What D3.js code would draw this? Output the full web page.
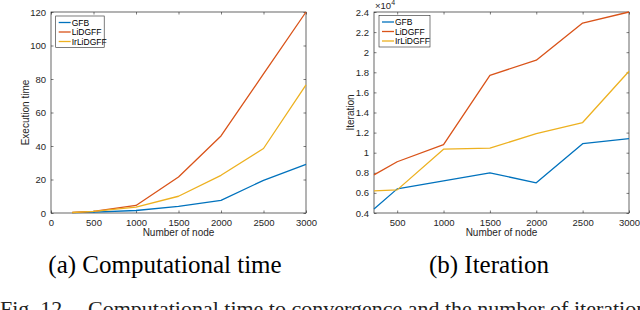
<!DOCTYPE html>
<html>
<head>
<meta charset="utf-8">
<script src="https://cdn.jsdelivr.net/npm/d3@7"></script>
<style>
  body { margin: 0; background: #fff; }
  svg { display: block; }
</style>
</head>
<body>
<div id="chart"></div>
<script>
// node counts shared by both panels
var nodes = [250, 500, 1000, 1500, 2000, 2500, 3000];

// (a) execution time
var timeGFB      = [0.2, 0.5, 1.5, 4, 7.5, 19.5, 29];
var timeLiDGFF   = [0.3, 1, 4.5, 21.5, 46, 83, 120];
var timeIrLiDGFF = [0.3, 1, 3.5, 10, 22.5, 38.5, 76.5];

// (b) iterations, in units of 10^4
var iterGFB      = [0.44, 0.64, 0.72, 0.80, 0.70, 1.09, 1.14];
var iterLiDGFF   = [0.78, 0.91, 1.08, 1.77, 1.92, 2.29, 2.40];
var iterIrLiDGFF = [0.62, 0.63, 1.035, 1.045, 1.19, 1.30, 1.81];

var seriesNames = ["GFB", "LiDGFF", "IrLiDGFF"];
var colors = ["#0072BD", "#D95319", "#EDB120"];

var timeXTicks = [0, 500, 1000, 1500, 2000, 2500, 3000];
var timeYTicks = [0, 20, 40, 60, 80, 100, 120];
var iterXTicks = [500, 1000, 1500, 2000, 2500, 3000];
var iterYTicks = [0.4, 0.6, 0.8, 1, 1.2, 1.4, 1.6, 1.8, 2, 2.2, 2.4];

var svg = d3.select("#chart").append("svg")
  .attr("width", 640).attr("height", 310);

var axisFont = "Helvetica, Arial, 'Liberation Sans', sans-serif";
var serifFont = "'Liberation Serif', 'Times New Roman', serif";

function drawPanel(opts) {
  var x = d3.scaleLinear().domain(opts.xDomain).range([opts.left, opts.right]);
  var y = d3.scaleLinear().domain(opts.yDomain).range([opts.bottom, opts.top]);
  var g = svg.append("g");
  var tick = 2.5;

  // bottom + top axes (ticks inward)
  g.append("g")
    .attr("transform", "translate(0," + opts.bottom + ")")
    .call(d3.axisBottom(x).tickValues(opts.xTicks).tickSize(-tick).tickPadding(6).tickFormat(d3.format("d")))
    .call(function(a) { a.select(".domain").remove(); });
  g.append("g")
    .attr("transform", "translate(0," + opts.top + ")")
    .call(d3.axisTop(x).tickValues(opts.xTicks).tickSize(-tick).tickFormat(""))
    .call(function(a) { a.select(".domain").remove(); });
  // left + right axes
  g.append("g")
    .attr("transform", "translate(" + opts.left + ",0)")
    .call(d3.axisLeft(y).tickValues(opts.yTicks).tickSize(-tick).tickPadding(5).tickFormat(opts.yFormat))
    .call(function(a) { a.select(".domain").remove(); });
  g.append("g")
    .attr("transform", "translate(" + opts.right + ",0)")
    .call(d3.axisRight(y).tickValues(opts.yTicks).tickSize(-tick).tickFormat(""))
    .call(function(a) { a.select(".domain").remove(); });

  g.selectAll(".tick line").attr("stroke", "#262626").attr("stroke-width", 0.6);
  g.selectAll(".tick text").attr("fill", "#262626")
    .style("font-family", axisFont).style("font-size", "9.5px");

  // box
  g.append("rect")
    .attr("x", opts.left).attr("y", opts.top)
    .attr("width", opts.right - opts.left).attr("height", opts.bottom - opts.top)
    .attr("fill", "none").attr("stroke", "#262626").attr("stroke-width", 0.7);

  // lines
  var line = d3.line()
    .x(function(d, i) { return x(nodes[i]); })
    .y(function(d) { return y(d); });
  opts.series.forEach(function(s, i) {
    g.append("path")
      .datum(s)
      .attr("d", line)
      .attr("fill", "none")
      .attr("stroke", colors[i])
      .attr("stroke-width", 1.3)
      .attr("stroke-linejoin", "round");
  });

  // legend
  var lg = g.append("g").attr("transform", "translate(" + opts.legendX + "," + opts.legendY + ")");
  lg.append("rect")
    .attr("width", opts.legendW).attr("height", 31.5)
    .attr("fill", "#fff").attr("stroke", "#262626").attr("stroke-width", 0.6);
  seriesNames.forEach(function(n, i) {
    var yy = 6.5 + i * 9.5;
    lg.append("line")
      .attr("x1", 3).attr("x2", 15).attr("y1", yy).attr("y2", yy)
      .attr("stroke", colors[i]).attr("stroke-width", 1.3);
    lg.append("text")
      .attr("x", 16).attr("y", yy + 3)
      .style("font-family", axisFont).style("font-size", "8.5px")
      .attr("fill", "#000")
      .text(n);
  });

  // axis labels
  g.append("text")
    .attr("x", (opts.left + opts.right) / 2).attr("y", 236)
    .attr("text-anchor", "middle")
    .style("font-family", axisFont).style("font-size", "10px").attr("fill", "#262626")
    .text("Number of node");
  g.append("text")
    .attr("transform", "translate(" + opts.yLabelX + "," + (opts.top + opts.bottom) / 2 + ") rotate(-90)")
    .attr("text-anchor", "middle")
    .style("font-family", axisFont).style("font-size", "10px").attr("fill", "#262626")
    .text(opts.yLabel);

  // caption
  svg.append("text")
    .attr("x", opts.captionX).attr("y", 273)
    .attr("text-anchor", "middle")
    .style("font-family", serifFont)
    .style("font-size", "25px").attr("fill", "#000")
    .text(opts.caption);

  return g;
}

drawPanel({
  left: 51, right: 306, top: 12, bottom: 213,
  xDomain: [0, 3000], yDomain: [0, 120],
  xTicks: timeXTicks, yTicks: timeYTicks,
  yFormat: d3.format("d"),
  series: [timeGFB, timeLiDGFF, timeIrLiDGFF],
  legendX: 55.7, legendY: 16, legendW: 48.5,
  yLabel: "Execution time", yLabelX: 29,
  caption: "(a) Computational time", captionX: 165
});

var g2 = drawPanel({
  left: 374, right: 629, top: 12, bottom: 213,
  xDomain: [250, 3000], yDomain: [0.4, 2.4],
  xTicks: iterXTicks, yTicks: iterYTicks,
  yFormat: function(d) { return d3.format("~g")(d); },
  series: [iterGFB, iterLiDGFF, iterIrLiDGFF],
  legendX: 379, legendY: 15.5, legendW: 51,
  yLabel: "Iteration", yLabelX: 354,
  caption: "(b) Iteration", captionX: 489
});

// exponent marker
var ex = g2.append("text").attr("x", 375).attr("y", 9)
  .style("font-family", axisFont).style("font-size", "9.5px").attr("fill", "#262626");
ex.append("tspan").text("\u00d710");
ex.append("tspan").attr("dy", -4).style("font-size", "7px").text("4");

// figure caption, cut off by the page edge as in the source
var fig = svg.append("text")
  .attr("y", 315.5)
  .style("font-family", serifFont)
  .style("font-size", "22px").attr("fill", "#222");
fig.append("tspan").attr("x", 0).text("Fig. 12.");
fig.append("tspan").attr("x", 88).text("Computational time to convergence and the number of iteration");
</script>
</body>
</html>
